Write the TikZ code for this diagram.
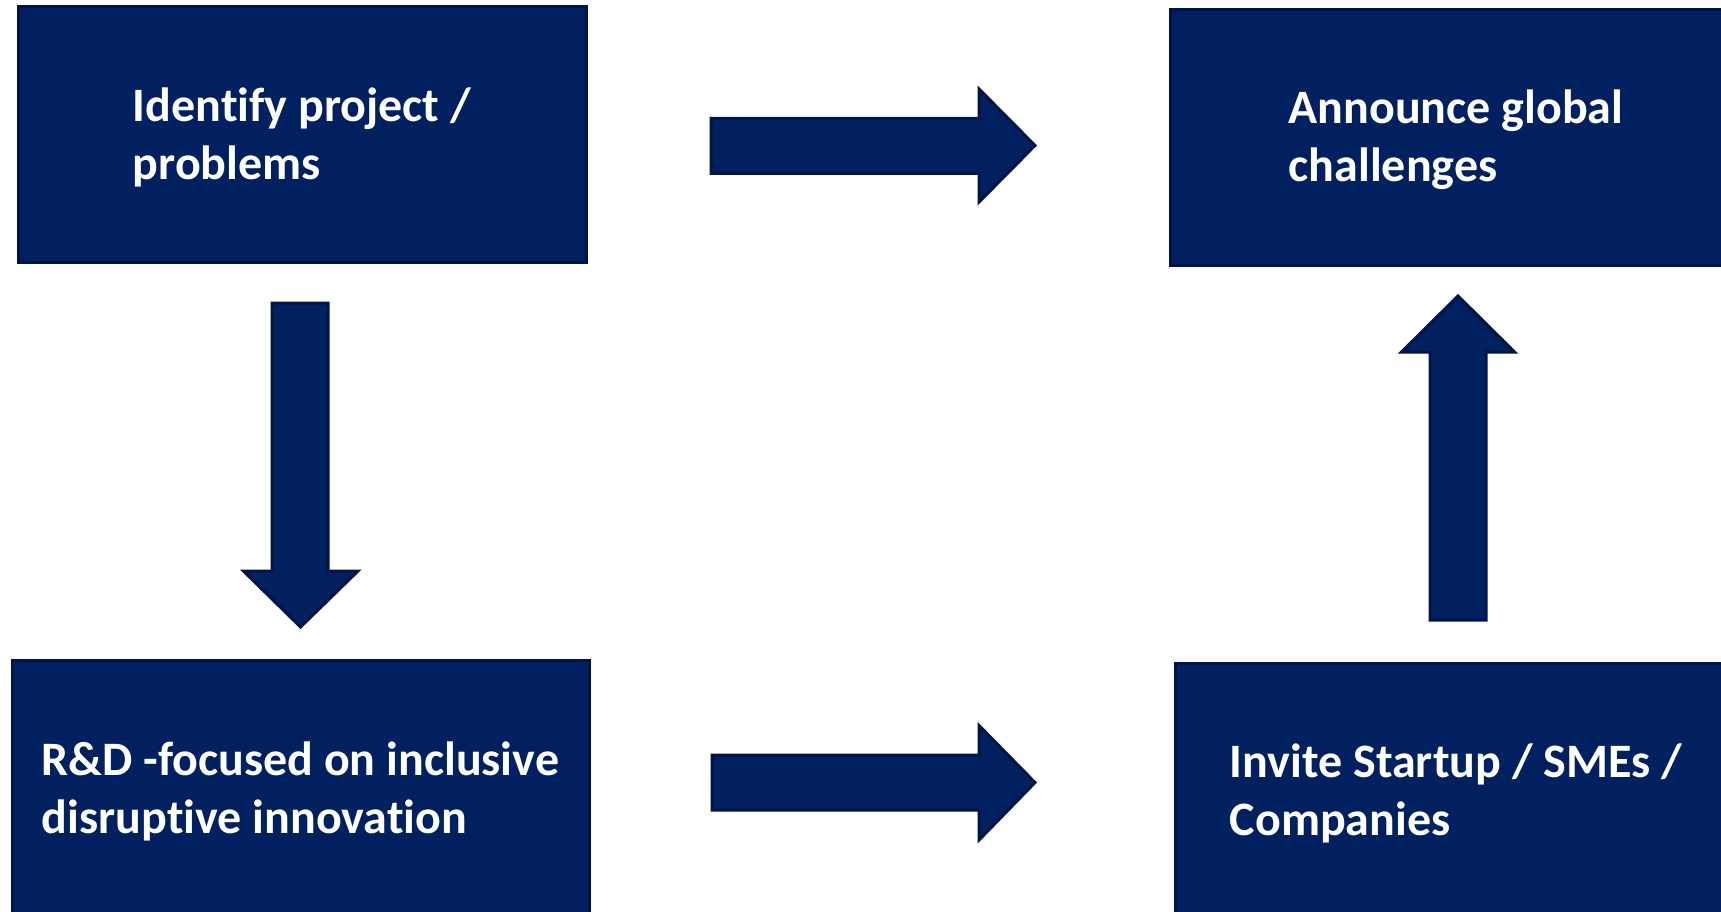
\documentclass[tikz,border=0pt]{standalone}
\usepackage{fontspec}
\setmainfont{Carlito}[RawFeature={-liga;-clig}]
\definecolor{navy}{HTML}{002060}
\definecolor{navyline}{HTML}{001446}
\begin{document}
\begin{tikzpicture}[x=1pt,y=-1pt,
  box/.style={rectangle, fill=navy, draw=navyline, line width=3pt, inner sep=0pt},
  boxtext/.style={text=white, align=left, inner sep=0pt,
    font=\fontsize{48}{58}\selectfont\bfseries},
  barrow/.style={fill=navy, draw=navyline, line width=3pt, line join=miter}]
\useasboundingbox (0,0) rectangle (1721,912);
\node[box, minimum width=568, minimum height=255] (b1) at (302,134.5) {};
\node[boxtext] (t1) at ([yshift=-2.5]b1.center) {Identify project /\\problems};
\node[box, minimum width=572, minimum height=255] (b2) at (1456,137.5) {};
\node[boxtext] (t2) at ([yshift=-2.5]b2.center) {Announce global\\challenges};
\node[box, minimum width=577, minimum height=258] (b3) at (300.5,789) {};
\node[boxtext] (t3) at ([yshift=-2.5]b3.center) {R\&D -focused on inclusive\\disruptive innovation};
\node[box, minimum width=562, minimum height=256] (b4) at (1456,791) {};
\node[boxtext] (t4) at ([yshift=-2.5]b4.center) {Invite Startup / SMEs /\\Companies};
% right arrow top
\draw[barrow] (711,118.5) -- (979,118.5) -- (979,89) -- (1035,145.5) -- (979,202)
  -- (979,173.5) -- (711,173.5) -- cycle;
% right arrow bottom
\draw[barrow] (712,755) -- (979,755) -- (979,725.5) -- (1035,782.5) -- (979,840)
  -- (979,810) -- (712,810) -- cycle;
% down arrow
\draw[barrow] (272,303) -- (328,303) -- (328,571) -- (358,571) -- (300.5,627)
  -- (243.5,571) -- (272,571) -- cycle;
% up arrow
\draw[barrow] (1430,620) -- (1486,620) -- (1486,352) -- (1514.5,352) -- (1458,296)
  -- (1401.5,352) -- (1430,352) -- cycle;
\end{tikzpicture}
\end{document}
